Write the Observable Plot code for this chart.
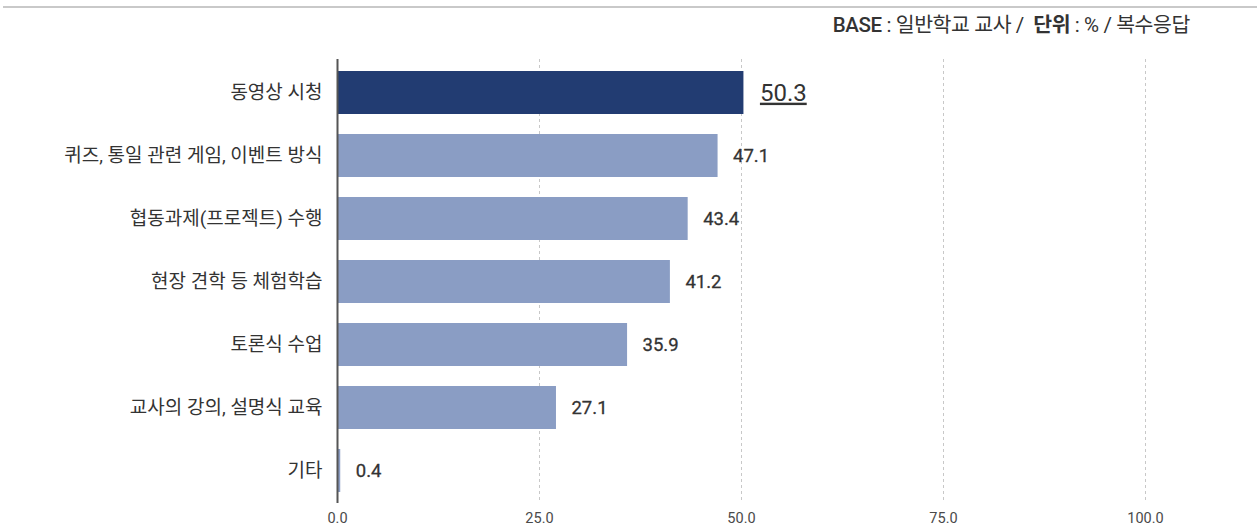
<!DOCTYPE html>
<html>
<head>
<meta charset="utf-8">
<script src="https://cdn.jsdelivr.net/npm/d3@7"></script>
<script src="https://cdn.jsdelivr.net/npm/@observablehq/plot@0.6"></script>
<style>
  html, body { margin: 0; padding: 0; background: #fff; }
  body { width: 1257px; height: 529px; overflow: hidden; font-family: Roboto, "Noto Sans CJK KR", sans-serif; }
  #header { position: relative; height: 40px; }
  #topline { position: absolute; left: 3px; right: 0; top: 6px; height: 0; border-top: 2px solid #c9c9c9; }
  #base { position: absolute; right: 67px; top: 8px; font-size: 20.5px; color: #333; letter-spacing: -0.4px; white-space: pre; }
  #base b { font-weight: 700; }
  #chart svg { display: block; }
</style>
</head>
<body>
<div id="header">
  <div id="topline"></div>
  <div id="base"><span style="font-weight:500">BASE</span> : 일반학교 교사 /  <b>단위</b> : % / 복수응답</div>
</div>
<div id="chart"></div>
<script>
const categories = ["동영상 시청", "퀴즈, 통일 관련 게임, 이벤트 방식", "협동과제(프로젝트) 수행", "현장 견학 등 체험학습", "토론식 수업", "교사의 강의, 설명식 교육", "기타"];
const values = [50.3, 47.1, 43.4, 41.2, 35.9, 27.1, 0.4];
const highlight = "동영상 시청";
const xTicks = [0, 25, 50, 75, 100];

const data = categories.map((c, i) => ({category: c, value: values[i], hi: c === highlight}));

const chart = Plot.plot({
  width: 1257,
  height: 489,
  marginTop: 19,
  marginBottom: 26,
  marginLeft: 337,
  marginRight: 112,
  style: {fontFamily: 'Roboto, "Noto Sans CJK KR", sans-serif', background: "#fff"},
  x: {domain: [0, 100], ticks: xTicks, tickFormat: d3.format(".1f")},
  y: {domain: categories, paddingInner: 0.32, paddingOuter: 0.16},
  marks: [
    Plot.ruleX(xTicks.filter(d => d > 0), {stroke: "#c8c8c8", strokeDasharray: "3,3", strokeWidth: 1}),
    Plot.barX(data, {y: "category", x: "value", fill: d => d.hi ? "#223c72" : "#8a9dc4"}),
    Plot.ruleX([0], {stroke: "#555", strokeWidth: 2}),
    Plot.axisX({ticks: xTicks, tickFormat: d3.format(".1f"), tickSize: 0, tickPadding: 9, fontSize: 14.5, color: "#4a4a4a", anchor: "bottom", label: null}),
    Plot.axisY({tickSize: 0, tickPadding: 15, fontSize: 19, color: "#333", anchor: "left", label: null}),
    Plot.text(data.filter(d => !d.hi), {y: "category", x: "value", text: d => d.value.toFixed(1), textAnchor: "start", dx: 15, fontSize: 18.5, fontWeight: 400, fill: "#333", stroke: "#333", strokeWidth: 0.3}),
    Plot.text(data.filter(d => d.hi), {y: "category", x: "value", text: d => d.value.toFixed(1), textAnchor: "start", dx: 16, fontSize: 24, fontWeight: 400, fill: "#333"})
  ]
});
document.getElementById("chart").appendChild(chart);
const hiLabel = values[categories.indexOf(highlight)].toFixed(1);
d3.select(chart).selectAll("text")
  .filter(function() { return this.textContent === hiLabel; })
  .attr("text-decoration", "underline")
  .style("text-decoration", "underline");
</script>
</body>
</html>
